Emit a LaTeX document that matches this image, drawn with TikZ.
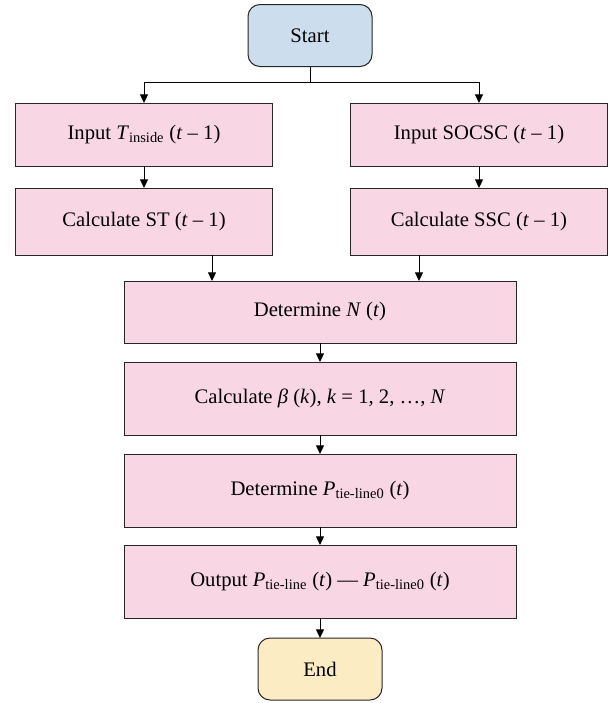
\documentclass[tikz,border=0pt]{standalone}
\usepackage{amsmath}
\usepackage{fontspec}
\setmainfont{Liberation Serif}
\usetikzlibrary{arrows.meta}

\definecolor{startblue}{RGB}{204,221,237}
\definecolor{boxpink}{RGB}{248,214,228}
\definecolor{endyellow}{RGB}{252,236,196}

\newcommand{\vi}[1]{\textit{#1}}
\newcommand{\sub}[1]{$_{\text{#1}}$}

\tikzset{every picture/.style={line width=0.75pt}}
\tikzset{
  flowbox/.style={draw=black!85, fill=boxpink, inner sep=0pt, outer sep=0pt, align=center,
    font=\fontsize{15.5}{18}\selectfont},
  sidebox/.style={flowbox, minimum width=192.75pt},
  midbox/.style={flowbox, minimum width=294pt},
  termbox/.style={flowbox, rounded corners=9pt, minimum width=93pt, minimum height=46.5pt},
  flowarrow/.style={-{Triangle[width=6pt,length=6.5pt]}}
}

\begin{document}
\begin{tikzpicture}[x=0.75pt,y=0.75pt,yscale=-1,xscale=1]
        \useasboundingbox (0,0) rectangle (611,703);

        %Shape: Rounded Rect [id:start]
        \node [termbox, fill=startblue] (start) at (310,35.5) {Start};
        %Shape: Rectangle [id:input T]
        \node [sidebox, minimum height=47.25pt] (inT) at (144,134.5) {Input \vi{T}\sub{inside} (\vi{t} – 1)};
        %Shape: Rectangle [id:input SOCSC]
        \node [sidebox, minimum height=47.25pt] (inSOC) at (479,134.5) {Input SOCSC (\vi{t} – 1)};
        %Shape: Rectangle [id:calc ST]
        \node [sidebox, minimum height=50.25pt] (calcST) at (144,221.5) {Calculate ST (\vi{t} – 1)};
        %Shape: Rectangle [id:calc SSC]
        \node [sidebox, minimum height=50.25pt] (calcSSC) at (479,221.5) {Calculate SSC (\vi{t} – 1)};
        %Shape: Rectangle [id:det N]
        \node [midbox, minimum height=46.5pt] (detN) at (320,312) {Determine \vi{N} (\vi{t})};
        %Shape: Rectangle [id:calc beta]
        \node [midbox, minimum height=54.75pt] (calcBeta) at (320,398.5) {Calculate \vi{β} (\vi{k}), \vi{k} = 1, 2, …, \vi{N}};
        %Shape: Rectangle [id:det P]
        \node [midbox, minimum height=54.75pt] (detP) at (320,490.5) {Determine \vi{P}\sub{tie-line0} (\vi{t})};
        %Shape: Rectangle [id:output]
        \node [midbox, minimum height=54.75pt] (outP) at (320,581.5) {Output \vi{P}\sub{tie-line} (\vi{t}) — \vi{P}\sub{tie-line0} (\vi{t})};
        %Shape: Rounded Rect [id:end]
        \node [termbox, fill=endyellow] (end) at (320,669) {End};

        % split points
        \coordinate (split) at (310,82);
        \coordinate (joinL) at (212,0);
        \coordinate (joinR) at (419,0);

        %Straight Lines
        \draw (start.south) -- (split);
        \draw [flowarrow] (split) -| (inT.north);
        \draw [flowarrow] (split) -| (inSOC.north);
        \draw [flowarrow] (inT) -- (calcST);
        \draw [flowarrow] (inSOC) -- (calcSSC);
        \draw [flowarrow] (calcST.south -| joinL) -- (detN.north -| joinL);
        \draw [flowarrow] (calcSSC.south -| joinR) -- (detN.north -| joinR);
        \draw [flowarrow] (detN) -- (calcBeta);
        \draw [flowarrow] (calcBeta) -- (detP);
        \draw [flowarrow] (detP) -- (outP);
        \draw [flowarrow] (outP) -- (end);

\end{tikzpicture}
\end{document}
